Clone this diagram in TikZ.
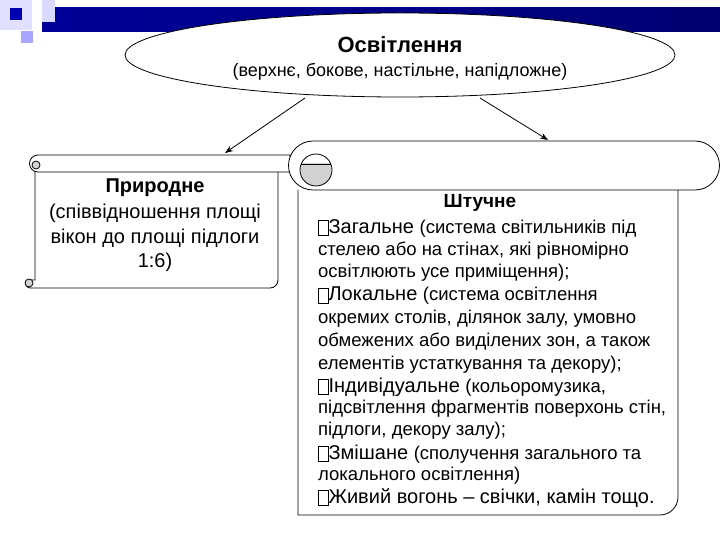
\documentclass[tikz,border=0pt]{standalone}
\usepackage{fontspec}
\setmainfont{Liberation Sans}
\usetikzlibrary{shapes.geometric,arrows.meta}
\begin{document}
\begin{tikzpicture}[x=1pt,y=1pt,
  edge/.style={draw,thick,-{Stealth[length=8pt]}},
  roll/.style={draw,thick,fill=white},
  big/.style={font=\fontsize{20}{22}\selectfont},
  txt/.style={font=\fontsize{18.5}{21}\selectfont,anchor=west,inner sep=0},
  bul/.style={draw,thin,minimum width=10pt,minimum height=15pt,inner sep=0,anchor=west}]
\useasboundingbox (0,0) rectangle (720,-540);
% decoration
\fill[blue!12] (0,0) rectangle (32,-30);
\fill[left color=blue!60!black, right color=blue!45!black] (42,-8) rectangle (720,-32);
\fill[blue!15] (42,0) rectangle (55,-22);
\fill[blue!70!black] (10,-8) rectangle (22,-20);
\fill[blue!35] (21,-31) rectangle (33,-43);
% ellipse
\node[draw,thick,fill=white,ellipse,minimum width=550,minimum height=84,inner sep=0] (top) at (400,-55) {};
\node[font=\fontsize{22}{24}\selectfont\bfseries] (t1) at (400,-45) {Освітлення};
\node[font=\fontsize{18}{20}\selectfont] (t2) at (400,-72) {(верхнє, бокове, настільне, напідложне)};
% left scroll
\draw[roll] (35,-172) -- (35,-280) -- (30,-280) arc[start angle=90,end angle=270,radius=4] -- (270,-288) arc[start angle=-90,end angle=0,radius=8] -- (278,-172);
\draw[roll] (38,-155) -- (290,-155) -- (290,-172) -- (38,-172) arc[start angle=270,end angle=90,radius=8.5];
\draw[thick,fill=gray!35] (36,-165) circle (4);
\draw[thick,fill=gray!35] (29,-283) circle (4);
\node[font=\fontsize{20}{22}\selectfont\bfseries] (l1) at (155,-188) {Природне};
\node[big] (l2) at (155,-213) {(співвідношення площі};
\node[big] (l3) at (155,-238) {вікон до площі підлоги};
\node[big] (l4) at (155,-262) {1:6)};
% right scroll
\draw[roll] (298,-190) -- (298,-515) -- (660,-515) arc[start angle=-90,end angle=0,radius=18] -- (678,-190);
\draw[roll] (313,-141) -- (695,-141) arc[start angle=90,end angle=-90,radius=24.5] -- (313,-190) arc[start angle=270,end angle=90,radius=24.5];
\begin{scope}
\clip (290,-164) rectangle (340,-200);
\fill[gray!35] (316,-170) circle (16);
\end{scope}
\draw[thick] (316,-170) circle (16);
\draw[thick] (301,-164) -- (331,-164);
\node[font=\fontsize{19}{21}\selectfont\bfseries] (r0) at (480,-203) {Штучне};
\node[bul] (b1) at (318,-228) {};
\node[txt,font=\fontsize{20}{23}\selectfont] (r1) at (b1.east) {Загальне {\fontsize{18.5}{21}\selectfont(система світильників під}};
\node[txt] (r2) at (318,-251) {стелею або на стінах, які рівномірно};
\node[txt] (r3) at (318,-273) {освітлюють усе приміщення);};
\node[bul] (b4) at (318,-296) {};
\node[txt,font=\fontsize{20}{23}\selectfont] (r4) at (b4.east) {Локальне {\fontsize{18.5}{21}\selectfont(система освітлення}};
\node[txt] (r5) at (318,-319) {окремих столів, ділянок залу, умовно};
\node[txt] (r6) at (318,-342) {обмежених або виділених зон, а також};
\node[txt] (r7) at (318,-365) {елементів устаткування та декору);};
\node[bul] (b8) at (318,-387) {};
\node[txt,font=\fontsize{20}{23}\selectfont] (r8) at (b8.east) {Індивідуальне {\fontsize{18.5}{21}\selectfont(кольоромузика,}};
\node[txt] (r9) at (318,-409) {підсвітлення фрагментів поверхонь стін,};
\node[txt] (r10) at (318,-431) {підлоги, декору залу);};
\node[bul] (b11) at (318,-454) {};
\node[txt,font=\fontsize{20}{23}\selectfont] (r11) at (b11.east) {Змішане {\fontsize{18.5}{21}\selectfont(сполучення загального та}};
\node[txt] (r12) at (318,-476) {локального освітлення)};
\node[bul] (b13) at (318,-498) {};
\node[txt,font=\fontsize{20}{23}\selectfont] (r13) at (b13.east) {Живий вогонь -- свічки, камін тощо.};
% arrows
\coordinate (a1) at (305,-98); \coordinate (a2) at (480,-98);
\coordinate (e1) at (225,-153); \coordinate (e2) at (548,-140);
\draw[edge] (a1) -- (e1);
\draw[edge] (a2) -- (e2);
\end{tikzpicture}
\end{document}
